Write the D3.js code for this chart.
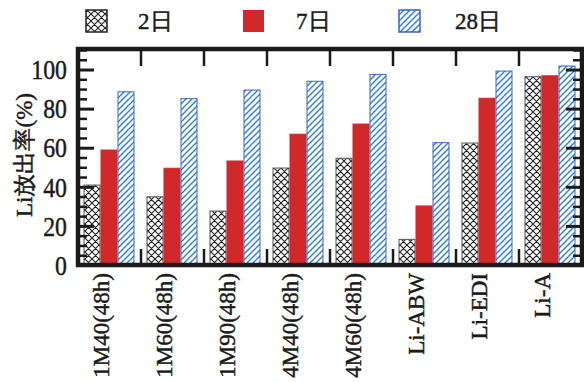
<!DOCTYPE html>
<html>
<head>
<meta charset="utf-8">
<script src="https://cdn.jsdelivr.net/npm/d3@7/dist/d3.min.js"></script>
<style>
  html, body { margin: 0; padding: 0; background: #fff; }
  svg { display: block; }
  svg text {
    font-family: "Liberation Serif", "Times New Roman", "DejaVu Serif", serif !important;
    fill: #1a1a1a; stroke: #1a1a1a; stroke-width: 0.45px;
  }
</style>
</head>
<body>
<svg id="chart" width="584" height="382"></svg>
<script>
// Samples on the x axis
const categories = ["1M40(48h)", "1M60(48h)", "1M90(48h)", "4M40(48h)", "4M60(48h)", "Li-ABW", "Li-EDI", "Li-A"];
// Series names (leaching time)
const seriesNames = ["2日", "7日", "28日"];
// Li leaching ratio (%) per series
const day2  = [40.9, 34.9, 27.6, 49.6, 54.6, 13.1, 62.4, 96.3];
const day7  = [58.8, 49.5, 53.2, 66.9, 72.1, 30.2, 85.3, 96.8];
const day28 = [88.6, 85.1, 89.5, 94.0, 97.5, 62.6, 99.2, 101.8];
// Y axis ticks
const yMajorTicks = [0, 20, 40, 60, 80, 100];
const yMinorTicks = d3.range(0, 111, 5);
const yLabel = "Li放出率(%)";

const seriesValues = [day2, day7, day28];

const svg = d3.select("#chart");
const plotL = 78, plotR = 582, plotT = 49, plotB = 265;

// Patterns: cross-hatch for 2日, diagonal hatch for 28日
const defs = svg.append("defs");
const cross = defs.append("pattern")
  .attr("id", "cross").attr("patternUnits", "userSpaceOnUse")
  .attr("width", 7).attr("height", 7);
cross.append("rect").attr("width", 7).attr("height", 7).attr("fill", "#fff");
cross.append("path").attr("d", "M0,0L7,7M7,0L0,7M-1,6L1,8M6,-1L8,1")
  .attr("stroke", "#222").attr("stroke-width", 1.1);

const hatch = defs.append("pattern")
  .attr("id", "hatch").attr("patternUnits", "userSpaceOnUse")
  .attr("width", 6).attr("height", 6);
hatch.append("rect").attr("width", 6).attr("height", 6).attr("fill", "#fff");
hatch.append("path").attr("d", "M-1,1L1,-1M0,6L6,0M5,7L7,5")
  .attr("stroke", "#2d7fd6").attr("stroke-width", 1.4);

const fills = ["url(#cross)", "#d0282b", "url(#hatch)"];
const strokes = ["#555", "#d0282b", "#3a66b8"];

const x = d3.scaleBand().domain(categories).range([plotL, plotR]).padding(0);
const xs = d3.scaleBand().domain(d3.range(3))
  .range([5.5, x.bandwidth() - 6.5]).padding(0);
const y = d3.scaleLinear().domain([0, 110.5]).range([plotB, plotT]);

// Bars
const groups = svg.append("g").selectAll("g")
  .data(categories).join("g")
  .attr("transform", d => `translate(${x(d)},0)`);

groups.selectAll("rect")
  .data((d, i) => seriesValues.map((s, k) => ({ k, v: s[i] })))
  .join("rect")
  .attr("x", d => xs(d.k) + 0.5)
  .attr("width", xs.bandwidth() - 1)
  .attr("y", d => y(d.v))
  .attr("height", d => y(0) - y(d.v))
  .attr("fill", d => fills[d.k])
  .attr("stroke", d => strokes[d.k])
  .attr("stroke-width", 1);

// Y axis (left) with inward ticks
const yAxisL = svg.append("g").attr("transform", `translate(${plotL},0)`)
  .call(d3.axisLeft(y).tickValues(yMajorTicks).tickSizeInner(-16).tickSizeOuter(0).tickPadding(0));
yAxisL.select(".domain").remove();
yAxisL.selectAll(".tick line").attr("stroke", "#1a1a1a").attr("stroke-width", 3);
yAxisL.selectAll(".tick text")
  .attr("font-size", 27)
  .attr("x", 0).attr("dy", "0.34em")
  .attr("transform", "translate(-11,0) scale(0.88,1)");

const yMinorL = svg.append("g").attr("transform", `translate(${plotL},0)`)
  .call(d3.axisLeft(y).tickValues(yMinorTicks.filter(v => v % 20 !== 0)).tickSize(-9).tickFormat(""));
yMinorL.select(".domain").remove();
yMinorL.selectAll(".tick line").attr("stroke", "#1a1a1a").attr("stroke-width", 2.5);

// Y axis (right) mirrored ticks, no labels
const yAxisR = svg.append("g").attr("transform", `translate(${plotR},0)`)
  .call(d3.axisRight(y).tickValues(yMajorTicks).tickSize(-16).tickFormat(""));
yAxisR.select(".domain").remove();
yAxisR.selectAll(".tick line").attr("stroke", "#1a1a1a").attr("stroke-width", 3);
const yMinorR = svg.append("g").attr("transform", `translate(${plotR},0)`)
  .call(d3.axisRight(y).tickValues(yMinorTicks.filter(v => v % 20 !== 0)).tickSize(-9).tickFormat(""));
yMinorR.select(".domain").remove();
yMinorR.selectAll(".tick line").attr("stroke", "#1a1a1a").attr("stroke-width", 2.5);

// Group dividers on top and bottom edges
const dividers = categories.slice(1).map(c => x(c));
svg.append("g").selectAll("line").data(dividers).join("line")
  .attr("x1", d => d).attr("x2", d => d)
  .attr("y1", plotT).attr("y2", plotT + 17)
  .attr("stroke", "#1a1a1a").attr("stroke-width", 2.5);
svg.append("g").selectAll("line").data(dividers).join("line")
  .attr("x1", d => d).attr("x2", d => d)
  .attr("y1", plotB).attr("y2", plotB - 16)
  .attr("stroke", "#1a1a1a").attr("stroke-width", 2.5);

// Frame
svg.append("rect")
  .attr("x", plotL).attr("y", plotT)
  .attr("width", plotR - plotL).attr("height", plotB - plotT)
  .attr("fill", "none").attr("stroke", "#1a1a1a").attr("stroke-width", 4.5);

// X labels, rotated
const xAxis = svg.append("g").attr("transform", `translate(0,${plotB})`)
  .call(d3.axisBottom(x).tickSize(0).tickPadding(0));
xAxis.select(".domain").remove();
xAxis.selectAll(".tick text")
  .attr("font-size", 23)
  .attr("text-anchor", "end")
  .attr("transform", "translate(-9,8) rotate(-90)")
  .attr("x", 0).attr("y", 0).attr("dy", "0.35em");

// Y title
svg.append("text")
  .attr("transform", `translate(24,155) rotate(-90)`)
  .attr("text-anchor", "middle").attr("dy", "0.35em")
  .attr("font-size", 23)
  .attr("textLength", 124).attr("lengthAdjust", "spacingAndGlyphs")
  .text(yLabel);

// Legend
const legendX = [86, 243, 399];
const legendTextX = [138, 296, 455];
const legend = svg.append("g");
seriesNames.forEach((name, k) => {
  legend.append("rect")
    .attr("x", legendX[k]).attr("y", 10)
    .attr("width", 21).attr("height", 22)
    .attr("fill", fills[k])
    .attr("stroke", k === 0 ? "#222" : strokes[k])
    .attr("stroke-width", k === 1 ? 0 : 1.5);
  legend.append("text")
    .attr("x", legendTextX[k]).attr("y", 21).attr("dy", "0.35em")
    .attr("font-size", 23)
    .text(name);
});
</script>
</body>
</html>
